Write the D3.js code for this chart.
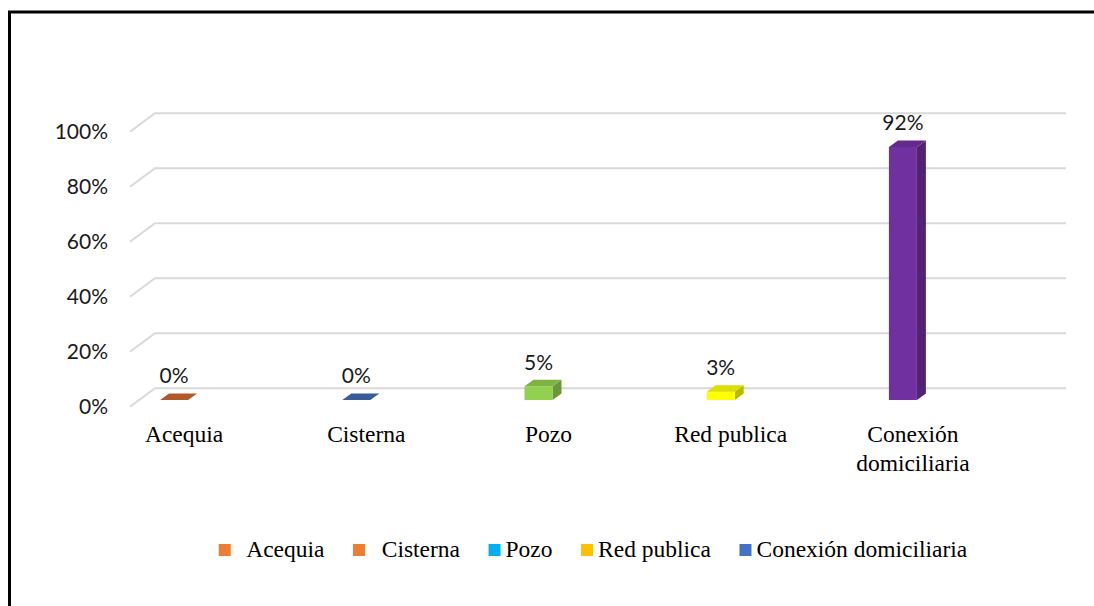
<!DOCTYPE html>
<html>
<head>
<meta charset="utf-8">
<script src="https://cdn.jsdelivr.net/npm/d3@7"></script>
<style>
	html, body { margin: 0; padding: 0; background: #fff; }
	svg { display: block; }
</style>
</head>
<body>
<svg id="chart" width="1094" height="606"></svg>
<script>
// data
var categories = ["Acequia", "Cisterna", "Pozo", "Red publica", "Conexión domiciliaria"];
var values = [0, 0, 0.05, 0.03, 0.92];
var valueLabels = ["0%", "0%", "5%", "3%", "92%"];
var barColors = ["#CC6630", "#4169B0", "#92D050", "#FFFF00", "#7030A0"];
var yTicks = [0, 0.2, 0.4, 0.6, 0.8, 1];
var legendLabels = ["  Acequia", "  Cisterna", "Pozo", "Red publica", "Conexión domiciliaria"];
var legendColors = ["#ED7D31", "#ED7D31", "#00B0F0", "#FFC000", "#4472C4"];

var svg = d3.select("#chart"),
	width = +svg.attr("width"),
	height = +svg.attr("height");

var sansFont = "Lato, 'Open Sans', sans-serif",
	serifFont = "'Liberation Serif', 'Times New Roman', serif";

// 3d depth of the floor / back wall
var depthX = 25, depthY = -18.5;
// bar sits partly into the depth
var barOffX = 9, barOffY = -6.7, barDx = 9, barDy = -6.5, barW = 28;

// frame
svg.append("path")
	.attr("d", "M9.5," + height + " V12 H" + width)
	.attr("fill", "none")
	.attr("stroke", "#000")
	.attr("stroke-width", 3);

var y = d3.scaleLinear()
	.domain([0, 1])
	.range([406.7, 131.7]);

var x = d3.scaleBand()
	.domain(categories)
	.range([74, 985]);

var floorLeft = 130, wallRight = 1066;

// gridlines (slanted side + back wall)
var grid = svg.append("g").attr("class", "grid");
grid.selectAll("path")
	.data(yTicks)
	.enter().append("path")
		.attr("d", function(d) {
			return "M" + floorLeft + "," + y(d) +
				" L" + (floorLeft + depthX) + "," + (y(d) + depthY) +
				" H" + wallRight;
		})
		.attr("fill", "none")
		.attr("stroke", "#D9D9D9")
		.attr("stroke-width", 2);

// y labels
svg.append("g")
	.selectAll("text")
	.data(yTicks)
	.enter().append("text")
		.attr("x", 108)
		.attr("y", function(d) { return y(d); })
		.attr("dy", "0.35em")
		.attr("text-anchor", "end")
		.attr("font-family", sansFont)
		.attr("font-size", 21)
		.attr("fill", "#1a1a1a")
		.text(function(d) { return d3.format(".0%")(d); });

// bars
var bars = svg.append("g").attr("class", "bars")
	.selectAll("g")
	.data(categories.map(function(c, i) { return { cat: c, v: values[i], color: barColors[i], label: valueLabels[i] }; }))
	.enter().append("g");

function bx(d) { return x(d.cat) + x.bandwidth() / 2 - barW / 2 + barOffX; }
function barBase() { return y(0) + barOffY; }
function barTop(d) { return barBase() - (y(0) - y(d.v)); }

// side face
bars.filter(function(d) { return d.v > 0; })
	.append("path")
	.attr("d", function(d) {
		var x0 = bx(d) + barW;
		return "M" + x0 + "," + barTop(d) + " L" + (x0 + barDx) + "," + (barTop(d) + barDy) +
			" L" + (x0 + barDx) + "," + (barBase() + barDy) + " L" + x0 + "," + barBase() + "Z";
	})
	.attr("fill", function(d) { return d3.color(d.color).darker(0.9); });

// front face
bars.filter(function(d) { return d.v > 0; })
	.append("rect")
	.attr("x", bx)
	.attr("y", barTop)
	.attr("width", barW)
	.attr("height", function(d) { return barBase() - barTop(d); })
	.attr("fill", function(d) { return d.color; });

// top face
bars.append("path")
	.attr("d", function(d) {
		var x0 = bx(d), t = barTop(d);
		return "M" + x0 + "," + t + " H" + (x0 + barW) +
			" L" + (x0 + barW + barDx) + "," + (t + barDy) + " H" + (x0 + barDx) + "Z";
	})
	.attr("fill", function(d) { return d3.color(d.color).darker(0.4); });

// value labels
bars.append("text")
	.attr("x", function(d) { return bx(d) + barW / 2; })
	.attr("y", function(d) { return barTop(d) - 24; })
	.attr("dy", "0.35em")
	.attr("text-anchor", "middle")
	.attr("font-family", sansFont)
	.attr("font-size", 21)
	.attr("fill", "#1a1a1a")
	.text(function(d) { return d.label; });

// category labels
var catLabels = svg.append("g")
	.selectAll("text")
	.data(categories)
	.enter().append("text")
		.attr("x", function(d) { return x(d) + x.bandwidth() / 2 + barOffX + 10; })
		.attr("y", 442)
		.attr("text-anchor", "middle")
		.attr("font-family", serifFont)
		.attr("font-size", 23.5)
		.attr("fill", "#000")
		.text(function(d) { return d; });

catLabels.each(function(d) {
	var t = d3.select(this);
	if (this.getComputedTextLength() > 150) {
		var words = d.split(" "), cx = t.attr("x");
		t.text(null);
		words.forEach(function(w, i) {
			t.append("tspan").attr("x", cx).attr("dy", i ? 28.5 : 0).text(w);
		});
	}
});

// legend
var legend = svg.append("g").attr("class", "legend");
var items = legend.selectAll("g")
	.data(legendLabels)
	.enter().append("g");

items.append("rect")
	.attr("width", 12)
	.attr("height", 12)
	.attr("y", -13)
	.attr("fill", function(d, i) { return legendColors[i]; });

items.append("text")
	.attr("x", 17)
	.attr("font-family", serifFont)
	.attr("font-size", 23.5)
	.attr("fill", "#000")
	.style("white-space", "pre")
	.text(function(d) { return d; });

var gap = 28.5, lx = 0;
items.each(function() {
	var w = d3.select(this).select("text").node().getComputedTextLength();
	d3.select(this).attr("transform", "translate(" + lx + ",0)");
	lx += 17 + w + gap;
});
lx -= gap;
legend.attr("transform", "translate(" + (593 - lx / 2) + ",557)");
</script>
</body>
</html>
